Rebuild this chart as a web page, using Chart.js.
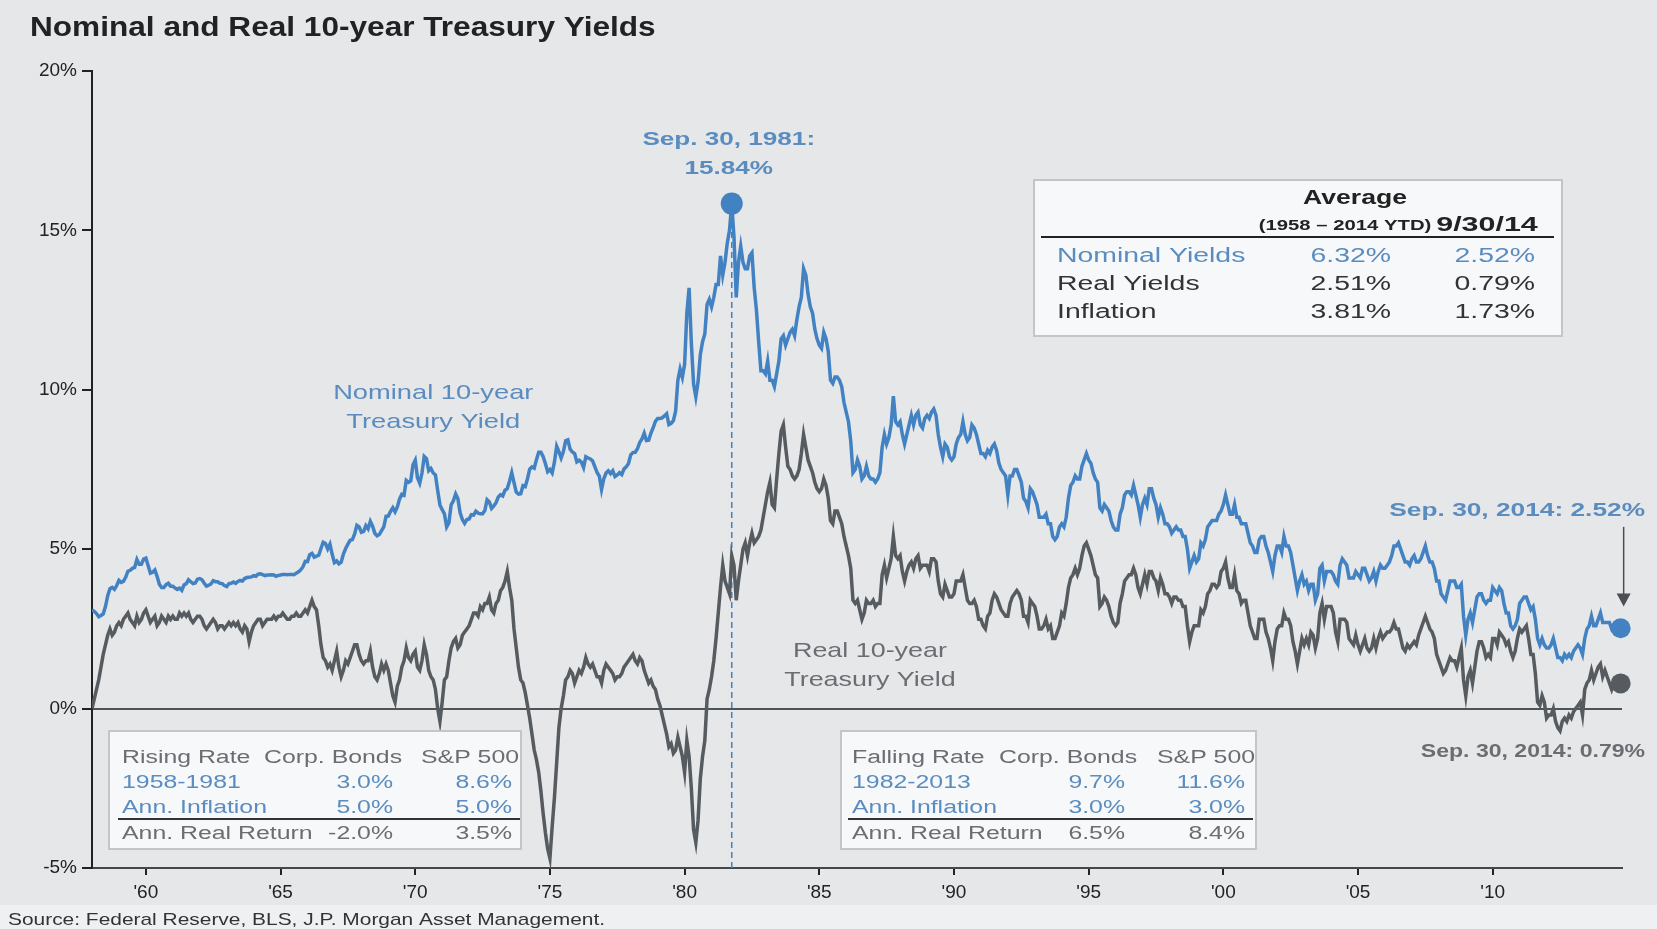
<!DOCTYPE html>
<html>
<head>
<meta charset="utf-8">
<title>Nominal and Real 10-year Treasury Yields</title>
<script src="https://cdn.jsdelivr.net/npm/chart.js@4.4.1/dist/chart.umd.min.js"></script>
<style>
    html, body { margin: 0; padding: 0; background: #e5e7e9; }
    #myChart { display: block; }
</style>
</head>
<body>
<canvas id="myChart" width="1657" height="929"></canvas>
<script>
// Monthly series, first value is Jan 1958, last value is Sep 30, 2014
const startYear = 1958;

const xTicks = [1960, 1965, 1970, 1975, 1980, 1985, 1990, 1995, 2000, 2005, 2010];
const yTicks = [-5, 0, 5, 10, 15, 20];

const nominalYield = [
    3.09, 3.05, 2.98, 2.88, 2.92, 2.97, 3.20, 3.54, 3.76, 3.80, 3.74, 3.86, // 1958
    4.02, 3.96, 3.99, 4.12, 4.31, 4.34, 4.40, 4.43, 4.68, 4.53, 4.53, 4.69, // 1959
    4.72, 4.49, 4.25, 4.28, 4.35, 4.15, 3.90, 3.80, 3.80, 3.89, 3.93, 3.84, // 1960
    3.84, 3.78, 3.74, 3.78, 3.71, 3.88, 3.92, 4.04, 3.98, 3.92, 3.94, 4.06, // 1961
    4.08, 4.04, 3.93, 3.84, 3.87, 3.91, 4.01, 3.98, 3.98, 3.93, 3.92, 3.86, // 1962
    3.83, 3.92, 3.93, 3.97, 3.93, 3.99, 4.02, 4.00, 4.08, 4.11, 4.12, 4.13, // 1963
    4.17, 4.15, 4.22, 4.23, 4.20, 4.17, 4.19, 4.19, 4.20, 4.19, 4.15, 4.18, // 1964
    4.19, 4.21, 4.21, 4.20, 4.21, 4.21, 4.20, 4.25, 4.29, 4.35, 4.45, 4.62, // 1965
    4.61, 4.83, 4.87, 4.75, 4.78, 4.81, 5.02, 5.22, 5.18, 5.01, 5.16, 4.84, // 1966
    4.58, 4.63, 4.54, 4.59, 4.85, 5.02, 5.16, 5.28, 5.30, 5.48, 5.75, 5.70, // 1967
    5.53, 5.56, 5.74, 5.64, 5.87, 5.72, 5.50, 5.42, 5.46, 5.58, 5.70, 6.03, // 1968
    6.04, 6.19, 6.30, 6.17, 6.32, 6.57, 6.72, 6.69, 7.16, 7.10, 7.14, 7.65, // 1969
    7.79, 7.24, 7.07, 7.39, 7.91, 7.84, 7.46, 7.53, 7.39, 7.33, 6.84, 6.39, // 1970
    6.24, 6.11, 5.70, 5.83, 6.39, 6.52, 6.73, 6.58, 6.14, 5.93, 5.81, 5.93, // 1971
    5.95, 6.08, 6.07, 6.19, 6.13, 6.11, 6.11, 6.21, 6.55, 6.48, 6.28, 6.36, // 1972
    6.46, 6.64, 6.71, 6.67, 6.85, 6.90, 7.13, 7.40, 7.09, 6.79, 6.73, 6.74, // 1973
    6.99, 6.96, 7.21, 7.51, 7.58, 7.54, 7.81, 8.04, 8.04, 7.90, 7.68, 7.43, // 1974
    7.50, 7.39, 7.73, 8.23, 8.06, 7.86, 8.06, 8.40, 8.43, 8.14, 8.05, 8.00, // 1975
    7.74, 7.79, 7.73, 7.56, 7.90, 7.86, 7.83, 7.77, 7.59, 7.41, 7.29, 6.87, // 1976
    7.21, 7.39, 7.46, 7.37, 7.46, 7.28, 7.33, 7.40, 7.34, 7.52, 7.58, 7.69, // 1977
    7.96, 8.03, 8.04, 8.15, 8.35, 8.46, 8.64, 8.41, 8.42, 8.64, 8.81, 9.01, // 1978
    9.10, 9.10, 9.12, 9.18, 9.25, 8.91, 8.95, 9.03, 9.33, 10.30, 10.65, 10.39, // 1979
    10.80, 12.41, 13.20, 11.47, 10.18, 9.78, 10.25, 11.10, 11.51, 11.75, 12.68, 12.84, // 1980
    12.60, 12.90, 13.30, 13.30, 14.20, 13.60, 14.00, 14.60, 15.00, 15.84, 14.80, 12.90, // 1981
    14.00, 14.50, 14.00, 13.80, 13.80, 14.20, 14.30, 13.20, 12.50, 11.50, 10.60, 10.60, // 1982
    10.50, 10.90, 10.30, 10.30, 10.10, 10.50, 10.90, 11.60, 11.70, 11.40, 11.60, 11.80, // 1983
    11.90, 11.70, 12.20, 12.60, 12.90, 13.80, 13.60, 13.00, 12.60, 12.40, 11.90, 11.60, // 1984
    11.40, 11.30, 11.80, 11.60, 11.20, 10.30, 10.20, 10.40, 10.40, 10.30, 10.10, 9.60, // 1985
    9.30, 9.00, 8.40, 7.40, 7.50, 7.80, 7.60, 7.20, 7.30, 7.60, 7.30, 7.20, // 1986
    7.20, 7.10, 7.20, 7.40, 8.20, 8.60, 8.30, 8.50, 8.90, 9.80, 9.00, 8.90, // 1987
    9.00, 8.60, 8.30, 8.60, 8.90, 9.20, 8.90, 9.20, 9.30, 8.90, 8.80, 9.10, // 1988
    9.20, 9.10, 9.30, 9.40, 9.20, 8.60, 8.20, 7.90, 8.30, 8.20, 7.90, 7.80, // 1989
    7.90, 8.30, 8.50, 8.60, 9.00, 8.60, 8.40, 8.50, 8.90, 8.80, 8.60, 8.30, // 1990
    8.00, 8.00, 7.90, 8.10, 8.00, 8.20, 8.30, 8.10, 7.70, 7.50, 7.40, 7.30, // 1991
    6.70, 7.30, 7.30, 7.50, 7.50, 7.30, 7.10, 6.60, 6.50, 6.30, 6.90, 6.80, // 1992
    6.60, 6.40, 6.00, 6.00, 6.00, 6.10, 5.80, 5.80, 5.40, 5.30, 5.40, 5.70, // 1993
    5.80, 5.70, 6.00, 6.60, 7.00, 7.10, 7.30, 7.20, 7.20, 7.60, 7.80, 8.00, // 1994
    7.80, 7.70, 7.40, 7.20, 7.10, 6.30, 6.20, 6.40, 6.30, 6.20, 5.90, 5.70, // 1995
    5.60, 5.60, 6.10, 6.30, 6.70, 6.80, 6.80, 6.70, 7.00, 6.70, 6.40, 6.00, // 1996
    6.40, 6.60, 6.40, 6.90, 6.90, 6.60, 6.40, 6.00, 6.30, 6.10, 5.80, 5.80, // 1997
    5.70, 5.50, 5.60, 5.70, 5.60, 5.60, 5.40, 5.40, 5.00, 4.40, 4.60, 4.80, // 1998
    4.60, 4.70, 5.20, 5.10, 5.30, 5.70, 5.80, 5.90, 5.90, 5.90, 6.10, 6.20, // 1999
    6.40, 6.70, 6.40, 6.10, 6.10, 6.40, 6.00, 6.00, 5.80, 5.80, 5.80, 5.50, // 2000
    5.20, 5.10, 4.90, 4.90, 5.30, 5.40, 5.40, 5.10, 4.90, 4.60, 4.30, 4.80, // 2001
    5.10, 5.10, 4.90, 5.40, 5.10, 5.10, 4.90, 4.50, 4.10, 3.70, 4.00, 4.20, // 2002
    3.90, 4.00, 3.70, 3.90, 3.90, 3.40, 3.60, 4.40, 4.50, 4.00, 4.30, 4.30, // 2003
    4.30, 4.20, 4.00, 3.90, 4.50, 4.70, 4.60, 4.50, 4.10, 4.10, 4.10, 4.30, // 2004
    4.20, 4.10, 4.40, 4.40, 4.20, 4.00, 4.10, 4.30, 4.00, 4.30, 4.50, 4.40, // 2005
    4.40, 4.50, 4.60, 4.80, 5.10, 5.10, 5.20, 5.00, 4.80, 4.60, 4.60, 4.50, // 2006
    4.70, 4.80, 4.60, 4.60, 4.70, 4.90, 5.10, 4.80, 4.60, 4.60, 4.40, 4.00, // 2007
    4.00, 3.60, 3.50, 3.40, 3.70, 4.00, 4.00, 4.00, 3.80, 3.80, 3.90, 2.90, // 2008
    2.30, 2.80, 3.00, 2.70, 3.10, 3.50, 3.60, 3.60, 3.40, 3.30, 3.40, 3.40, // 2009
    3.80, 3.70, 3.60, 3.80, 3.70, 3.30, 3.00, 3.00, 2.60, 2.50, 2.60, 2.80, // 2010
    3.30, 3.40, 3.50, 3.50, 3.30, 3.10, 3.20, 2.80, 2.20, 2.00, 2.20, 2.00, // 2011
    1.90, 1.90, 2.00, 2.20, 1.90, 1.60, 1.60, 1.50, 1.70, 1.60, 1.70, 1.60, // 2012
    1.80, 1.90, 2.00, 1.90, 1.70, 2.20, 2.50, 2.60, 2.90, 2.60, 2.60, 2.80, // 2013
    3.00, 2.70, 2.70, 2.70, 2.70, 2.50, 2.60, 2.50, 2.40, 2.52              // 2014
];

const realYield = [
    0.0, 0.3, 0.6, 0.9, 1.3, 1.7, 2.0, 2.3, 2.5, 2.3, 2.4, 2.6, // 1958
    2.7, 2.6, 2.8, 2.9, 3.0, 2.8, 2.7, 2.6, 2.9, 2.7, 2.8, 3.0, // 1959
    3.1, 2.9, 2.7, 2.8, 2.9, 2.6, 2.7, 2.9, 2.8, 2.7, 2.9, 2.8, // 1960
    2.9, 2.8, 2.8, 3.0, 2.9, 3.0, 2.9, 3.0, 2.8, 2.7, 2.8, 2.9, // 1961
    2.9, 2.8, 2.6, 2.5, 2.6, 2.7, 2.8, 2.7, 2.5, 2.6, 2.6, 2.5, // 1962
    2.6, 2.7, 2.6, 2.7, 2.6, 2.7, 2.5, 2.4, 2.6, 2.5, 2.1, 2.4, // 1963
    2.6, 2.7, 2.8, 2.8, 2.6, 2.7, 2.8, 2.8, 2.8, 2.9, 2.8, 2.9, // 1964
    2.9, 3.0, 2.9, 2.8, 2.8, 2.9, 2.9, 3.0, 2.9, 2.9, 3.0, 3.1, // 1965
    3.0, 3.2, 3.4, 3.2, 3.1, 2.6, 2.0, 1.6, 1.5, 1.3, 1.4, 1.2, // 1966
    1.5, 1.8, 1.3, 1.0, 1.2, 1.5, 1.4, 1.6, 1.8, 2.0, 2.0, 1.7, // 1967
    1.5, 1.4, 1.5, 1.5, 1.8, 1.3, 1.0, 0.9, 1.1, 1.4, 1.2, 1.4, // 1968
    1.2, 0.8, 0.4, 0.2, 0.7, 0.9, 1.3, 1.5, 1.9, 1.6, 1.5, 1.7, // 1969
    1.8, 1.3, 1.2, 1.5, 2.0, 1.7, 1.2, 1.0, 0.9, 0.6, 0.0, -0.4, // 1970
    0.2, 0.9, 1.0, 1.5, 1.9, 2.1, 2.2, 1.9, 2.0, 2.3, 2.4, 2.5, // 1971
    2.6, 2.8, 3.0, 3.0, 2.9, 3.2, 3.1, 3.3, 3.3, 3.5, 3.1, 3.0, // 1972
    3.3, 3.4, 3.7, 3.8, 4.0, 4.3, 3.8, 3.4, 2.5, 1.9, 1.3, 0.9, // 1973
    0.8, 0.5, 0.1, -0.3, -0.8, -1.3, -1.6, -2.0, -2.6, -3.3, -3.9, -4.4, // 1974
    -4.7, -3.7, -2.8, -1.7, -0.6, 0.0, 0.4, 0.9, 1.0, 1.2, 1.1, 0.8, // 1975
    1.0, 1.2, 1.1, 1.3, 1.6, 1.4, 1.3, 1.4, 1.2, 1.0, 1.0, 0.8, // 1976
    1.2, 1.4, 1.3, 1.2, 1.1, 0.9, 1.0, 1.0, 1.1, 1.3, 1.4, 1.5, // 1977
    1.6, 1.7, 1.5, 1.4, 1.6, 1.5, 1.2, 1.0, 0.8, 0.9, 0.7, 0.6, // 1978
    0.3, 0.1, -0.2, -0.5, -0.8, -1.2, -1.1, -1.4, -1.3, -0.9, -1.2, -1.5, // 1979
    -2.0, -1.0, -1.5, -2.5, -3.8, -4.2, -3.5, -2.2, -1.5, -1.0, 0.3, 0.6, // 1980
    1.0, 1.5, 2.2, 3.0, 3.8, 4.5, 4.0, 3.8, 3.6, 4.8, 4.5, 3.4, // 1981
    4.0, 4.5, 5.0, 5.2, 4.8, 5.2, 5.5, 5.2, 5.3, 5.4, 5.6, 6.0, // 1982
    6.4, 6.8, 7.1, 6.4, 6.3, 7.2, 8.0, 8.7, 8.9, 8.2, 7.6, 7.5, // 1983
    7.3, 7.2, 7.3, 7.5, 8.0, 8.6, 8.2, 7.8, 7.6, 7.4, 7.1, 6.9, // 1984
    6.8, 6.9, 7.2, 7.0, 6.6, 5.9, 5.8, 6.2, 6.2, 6.0, 5.8, 5.4, // 1985
    5.1, 4.8, 4.4, 3.4, 3.3, 3.4, 3.1, 2.8, 3.0, 3.4, 3.3, 3.3, // 1986
    3.4, 3.2, 3.3, 3.3, 4.2, 4.5, 4.1, 4.4, 4.7, 5.4, 4.8, 4.7, // 1987
    4.8, 4.3, 4.0, 4.3, 4.5, 4.6, 4.4, 4.7, 4.8, 4.4, 4.5, 4.5, // 1988
    4.5, 4.3, 4.7, 4.7, 4.6, 4.0, 3.6, 3.5, 3.9, 3.7, 3.5, 3.5, // 1989
    3.6, 4.0, 4.0, 4.0, 4.2, 3.8, 3.4, 3.3, 3.3, 3.4, 3.2, 2.8, // 1990
    2.8, 2.6, 2.5, 2.9, 3.0, 3.4, 3.6, 3.5, 3.3, 3.1, 3.0, 2.9, // 1991
    2.9, 3.3, 3.5, 3.6, 3.7, 3.6, 3.4, 2.9, 2.9, 2.7, 3.4, 3.3, // 1992
    3.2, 2.9, 2.5, 2.5, 2.6, 2.8, 2.5, 2.6, 2.2, 2.2, 2.4, 2.6, // 1993
    3.0, 2.9, 3.3, 3.8, 4.1, 4.2, 4.4, 4.2, 4.4, 4.8, 5.1, 5.2, // 1994
    5.0, 4.8, 4.5, 4.2, 4.1, 3.2, 3.3, 3.5, 3.4, 3.2, 2.9, 2.7, // 1995
    2.6, 2.7, 3.3, 3.6, 4.0, 4.1, 4.2, 4.2, 4.4, 4.2, 3.8, 3.6, // 1996
    3.9, 4.2, 3.9, 4.3, 4.3, 4.1, 4.0, 3.7, 4.1, 3.9, 3.6, 3.6, // 1997
    3.5, 3.3, 3.5, 3.5, 3.4, 3.4, 3.2, 3.2, 2.6, 2.1, 2.4, 2.6, // 1998
    2.6, 2.6, 3.1, 3.0, 3.2, 3.6, 3.7, 3.9, 3.9, 3.8, 3.9, 4.3, // 1999
    4.4, 4.6, 4.1, 3.8, 3.8, 4.2, 3.7, 3.6, 3.3, 3.4, 3.4, 3.0, // 2000
    2.6, 2.4, 2.2, 2.2, 2.8, 2.8, 2.8, 2.4, 2.2, 1.9, 1.5, 2.1, // 2001
    2.5, 2.6, 2.6, 3.0, 2.8, 2.8, 2.6, 2.1, 1.8, 1.4, 1.8, 2.2, // 2002
    2.0, 2.2, 2.0, 2.4, 2.3, 1.9, 2.2, 3.0, 3.3, 2.8, 3.2, 3.2, // 2003
    3.2, 3.0, 2.4, 2.1, 2.8, 2.8, 2.8, 2.7, 2.2, 2.1, 2.0, 2.3, // 2004
    2.0, 1.8, 2.0, 2.2, 1.9, 1.8, 1.9, 2.2, 1.9, 2.2, 2.4, 2.2, // 2005
    2.3, 2.4, 2.4, 2.5, 2.7, 2.5, 2.5, 2.2, 1.9, 1.8, 2.0, 1.9, // 2006
    2.0, 2.1, 2.0, 2.3, 2.5, 2.7, 2.9, 2.7, 2.5, 2.4, 2.2, 1.7, // 2007
    1.5, 1.3, 1.1, 1.2, 1.4, 1.6, 1.5, 1.5, 1.3, 1.6, 1.9, 0.9, // 2008
    0.4, 1.0, 1.2, 0.8, 1.3, 1.8, 2.1, 2.1, 1.9, 1.6, 1.7, 1.6, // 2009
    2.2, 2.2, 2.0, 2.4, 2.3, 2.2, 2.0, 2.1, 1.8, 1.6, 1.8, 2.2, // 2010
    2.5, 2.4, 2.5, 2.6, 2.2, 1.7, 1.7, 1.1, 0.2, 0.1, 0.4, 0.2, // 2011
    -0.3, -0.2, -0.2, 0.0, -0.4, -0.6, -0.7, -0.4, -0.3, -0.4, -0.2, -0.3, // 2012
    -0.1, 0.0, 0.1, 0.2, -0.2, 0.6, 0.8, 0.9, 1.2, 0.9, 1.1, 1.3, // 2013
    1.4, 1.0, 1.2, 1.0, 0.8, 0.6, 0.8, 0.7, 0.7, 0.79          // 2014
];

// Highlighted observations
const peakDate = 1981.75;
const peakValue = 15.84;
const lastDate = 2014.75;
const lastNominal = 2.52;
const lastReal = 0.79;

// Text tables
const averageRows = [
    ['Nominal Yields', '6.32%', '2.52%'],
    ['Real Yields', '2.51%', '0.79%'],
    ['Inflation', '3.81%', '1.73%']
];
const risingRows = [
    ['Rising Rate', 'Corp. Bonds', 'S&P 500'],
    ['1958-1981', '3.0%', '8.6%'],
    ['Ann. Inflation', '5.0%', '5.0%'],
    ['Ann. Real Return', '-2.0%', '3.5%']
];
const fallingRows = [
    ['Falling Rate', 'Corp. Bonds', 'S&P 500'],
    ['1982-2013', '9.7%', '11.6%'],
    ['Ann. Inflation', '3.0%', '3.0%'],
    ['Ann. Real Return', '6.5%', '8.4%']
];

const blue = '#4281c2';
const gray = '#565b60';
const textBlue = '#5a8cbf';
const textGray = '#6a6e72';
const font = '"Liberation Sans", Arial, sans-serif';

// Build {x, y} points from the monthly arrays
function toPoints(values) {
    return values.map((v, i) => ({ x: startYear + i / 12, y: v }));
}

// The original artwork has wide lettering, so text is stretched sideways
function wideText(ctx, text, x, y, sx) {
    ctx.save();
    ctx.translate(x, y);
    ctx.scale(sx, 1);
    ctx.fillText(text, 0, 0);
    ctx.restore();
}

function drawBox(ctx, x, y, w, h) {
    ctx.save();
    ctx.fillStyle = '#f7f8f9';
    ctx.strokeStyle = '#c3c6c9';
    ctx.lineWidth = 2;
    ctx.fillRect(x, y, w, h);
    ctx.strokeRect(x, y, w, h);
    ctx.restore();
}

// Draw one of the two bottom tables
function drawReturnTable(ctx, rows, box, cols) {
    drawBox(ctx, box[0], box[1], box[2], box[3]);
    const rowY = [box[1] + 27, box[1] + 52, box[1] + 77, box[1] + 103];
    const colors = [textGray, textBlue, textBlue, textGray];
    ctx.font = '18px ' + font;
    ctx.textBaseline = 'middle';
    rows.forEach((row, r) => {
        ctx.fillStyle = colors[r];
        ctx.textAlign = 'left';
        wideText(ctx, row[0], cols[0], rowY[r], 1.38);
        if (r === 0) {
            wideText(ctx, row[1], cols[1], rowY[r], 1.38);
            wideText(ctx, row[2], cols[3], rowY[r], 1.38);
        } else {
            ctx.textAlign = 'right';
            wideText(ctx, row[1], cols[2], rowY[r], 1.38);
            wideText(ctx, row[2], cols[4], rowY[r], 1.38);
        }
    });
    // rule under the inflation row
    ctx.strokeStyle = '#333';
    ctx.lineWidth = 2;
    ctx.beginPath();
    ctx.moveTo(cols[0] - 4, box[1] + 88);
    ctx.lineTo(cols[4] + 8, box[1] + 88);
    ctx.stroke();
}

const decorations = {
    id: 'decorations',
    beforeDraw(chart) {
        const ctx = chart.ctx;
        ctx.save();
        ctx.fillStyle = '#e5e7e9';
        ctx.fillRect(0, 0, chart.width, chart.height);
        ctx.fillStyle = '#eef0f1';
        ctx.fillRect(0, 905, chart.width, chart.height - 905);
        ctx.restore();
    },
    afterDraw(chart) {
        const ctx = chart.ctx;
        const xs = chart.scales.x;
        const ys = chart.scales.y;
        ctx.save();
        ctx.textBaseline = 'middle';

        // title
        ctx.fillStyle = '#222';
        ctx.font = 'bold 27px ' + font;
        ctx.textAlign = 'left';
        wideText(ctx, 'Nominal and Real 10-year Treasury Yields', 30, 29, 1.17);

        // source
        ctx.font = '17px ' + font;
        ctx.fillStyle = '#333';
        wideText(ctx, 'Source: Federal Reserve, BLS, J.P. Morgan Asset Management.', 8, 920, 1.23);

        // series labels
        ctx.textAlign = 'center';
        ctx.font = '21px ' + font;
        ctx.fillStyle = textBlue;
        wideText(ctx, 'Nominal 10-year', xs.getPixelForValue(1970.67), ys.getPixelForValue(9.89), 1.3);
        wideText(ctx, 'Treasury Yield', xs.getPixelForValue(1970.67), ys.getPixelForValue(8.98), 1.3);
        ctx.fillStyle = textGray;
        wideText(ctx, 'Real 10-year', xs.getPixelForValue(1986.88), ys.getPixelForValue(1.8), 1.28);
        wideText(ctx, 'Treasury Yield', xs.getPixelForValue(1986.88), ys.getPixelForValue(0.9), 1.28);

        // peak callout
        const px = xs.getPixelForValue(peakDate);
        const py = ys.getPixelForValue(peakValue);
        ctx.font = 'bold 18px ' + font;
        ctx.fillStyle = textBlue;
        wideText(ctx, 'Sep. 30, 1981:', px - 3, py - 64, 1.45);
        wideText(ctx, peakValue.toFixed(2) + '%', px - 3, py - 35, 1.45);

        // latest values
        const lx = xs.getPixelForValue(lastDate);
        ctx.textAlign = 'right';
        wideText(ctx, 'Sep. 30, 2014: ' + lastNominal.toFixed(2) + '%', 1645, ys.getPixelForValue(6.2), 1.46);
        ctx.fillStyle = textGray;
        wideText(ctx, 'Sep. 30, 2014: ' + lastReal.toFixed(2) + '%', 1645, ys.getPixelForValue(-1.35), 1.28);

        // arrow to the latest nominal value
        const ay0 = ys.getPixelForValue(5.7);
        const ay1 = ys.getPixelForValue(3.2);
        ctx.strokeStyle = '#4b4f53';
        ctx.fillStyle = '#4b4f53';
        ctx.lineWidth = 1.5;
        ctx.beginPath();
        ctx.moveTo(lx + 3, ay0);
        ctx.lineTo(lx + 3, ay1 - 10);
        ctx.stroke();
        ctx.beginPath();
        ctx.moveTo(lx - 4, ay1 - 13);
        ctx.lineTo(lx + 10, ay1 - 13);
        ctx.lineTo(lx + 3, ay1);
        ctx.closePath();
        ctx.fill();

        // averages table
        drawBox(ctx, 1034, 180, 528, 156);
        ctx.fillStyle = '#222';
        ctx.textAlign = 'center';
        ctx.font = 'bold 20px ' + font;
        wideText(ctx, 'Average', 1355, 198, 1.33);
        ctx.font = 'bold 14px ' + font;
        wideText(ctx, '(1958 \u2013 2014 YTD)', 1345, 226, 1.45);
        ctx.font = 'bold 21px ' + font;
        wideText(ctx, '9/30/14', 1487, 225, 1.45);
        ctx.strokeStyle = '#222';
        ctx.lineWidth = 2;
        ctx.beginPath();
        ctx.moveTo(1041, 237);
        ctx.lineTo(1554, 237);
        ctx.stroke();
        ctx.font = '20px ' + font;
        averageRows.forEach((row, r) => {
            const y = 256 + r * 28;
            ctx.fillStyle = r === 0 ? textBlue : '#333';
            ctx.textAlign = 'left';
            wideText(ctx, row[0], 1057, y, 1.42);
            ctx.textAlign = 'right';
            wideText(ctx, row[1], 1391, y, 1.42);
            wideText(ctx, row[2], 1535, y, 1.42);
        });

        // period tables
        drawReturnTable(ctx, risingRows, [109, 731, 412, 118], [122, 264, 393, 421, 512]);
        drawReturnTable(ctx, fallingRows, [841, 731, 415, 118], [852, 999, 1125, 1157, 1245]);

        ctx.restore();
    }
};

const ctx = document.getElementById('myChart').getContext('2d');

const myChart = new Chart(ctx, {
    type: 'line',
    data: {
        datasets: [
            {
                label: 'Peak marker line',
                data: [{ x: peakDate, y: -5 }, { x: peakDate, y: peakValue }],
                borderColor: blue,
                borderWidth: 1.5,
                borderDash: [6, 4],
                pointRadius: 0,
                order: 3
            },
            {
                label: 'Real 10-year Treasury Yield',
                data: toPoints(realYield),
                borderColor: gray,
                borderWidth: 3.5,
                pointRadius: 0,
                tension: 0,
                order: 2
            },
            {
                label: 'Nominal 10-year Treasury Yield',
                data: toPoints(nominalYield),
                borderColor: blue,
                borderWidth: 3.5,
                pointRadius: 0,
                tension: 0,
                order: 1
            },
            {
                label: 'Markers',
                data: [
                    { x: peakDate, y: peakValue },
                    { x: lastDate, y: lastNominal },
                    { x: lastDate, y: lastReal }
                ],
                showLine: false,
                pointRadius: [11, 10, 10],
                pointBackgroundColor: [blue, blue, gray],
                pointBorderWidth: 0,
                clip: false,
                order: 0
            }
        ]
    },
    options: {
        responsive: false,
        animation: false,
        devicePixelRatio: 1,
        layout: { padding: { top: 71, right: 35, bottom: 0, left: 0 } },
        plugins: {
            legend: { display: false },
            tooltip: { enabled: false }
        },
        scales: {
            x: {
                type: 'linear',
                min: startYear,
                max: 2014.8,
                afterFit: (scale) => { scale.height = 61; },
                afterBuildTicks: (scale) => { scale.ticks = xTicks.map(v => ({ value: v })); },
                border: { color: '#44484c', width: 2 },
                grid: { drawOnChartArea: false, tickLength: 7, tickColor: '#222', lineWidth: 2 },
                ticks: {
                    color: '#222',
                    padding: 6,
                    maxRotation: 0,
                    font: { family: font, size: 19 },
                    callback: (v) => "'" + String(v).slice(2)
                }
            },
            y: {
                min: -5,
                max: 20,
                afterFit: (scale) => { scale.width = 92; },
                afterBuildTicks: (scale) => { scale.ticks = yTicks.map(v => ({ value: v })); },
                border: { color: '#222', width: 2 },
                grid: {
                    color: (c) => (c.tick && c.tick.value === 0 ? '#505458' : 'rgba(0,0,0,0)'),
                    tickColor: '#222',
                    tickLength: 10,
                    lineWidth: 2
                },
                ticks: {
                    color: '#222',
                    padding: 5,
                    font: { family: font, size: 19 },
                    callback: (v) => v + '%'
                }
            }
        }
    },
    plugins: [decorations]
});
</script>
</body>
</html>
